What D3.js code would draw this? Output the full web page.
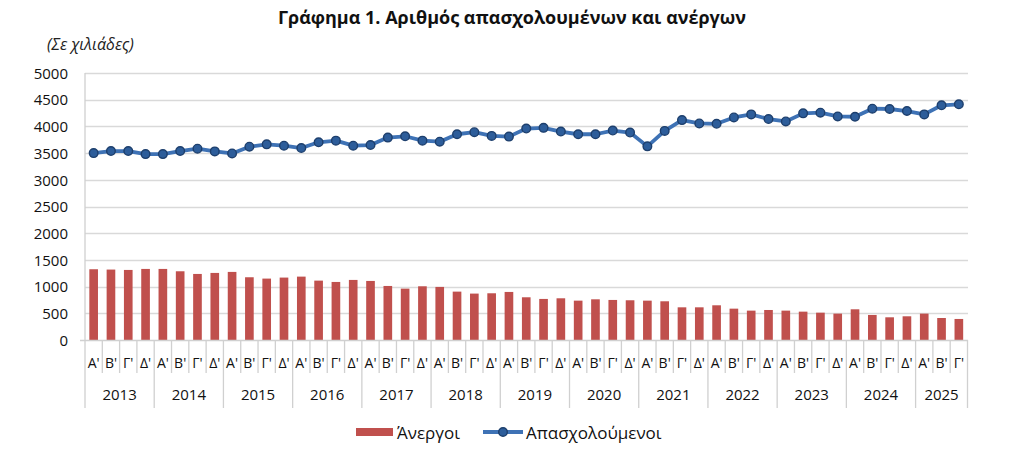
<!DOCTYPE html>
<html>
<head>
<meta charset="utf-8">
<script src="https://cdn.jsdelivr.net/npm/d3@7"></script>
<style>
  html, body { margin: 0; padding: 0; background: #fff; }
  svg { display: block; font-family: "Open Sans", "Noto Sans", sans-serif; }
</style>
</head>
<body>
<svg id="chart" width="1024" height="465"></svg>
<script>
const years = ["2013","2014","2015","2016","2017","2018","2019","2020","2021","2022","2023","2024","2025"];
const quarterNames = ["Α'","Β'","Γ'","Δ'"];
const yTicks = [0,500,1000,1500,2000,2500,3000,3500,4000,4500,5000];

const unemployed = [1325,1319,1312,1331,1331,1287,1237,1256,1275,1175,
                    1150,1169,1187,1112,1087,1125,1106,1012,962,1006,
                    994,906,869,875,900,800,769,781,737,762,
                    750,744,737,725,612,612,650,587,550,562,
                    550,531,512,494,575,469,425,444,494,412,394];
const employed = [3500,3538,3538,3481,3481,3538,3582,3532,3494,3620,
                  3664,3639,3595,3702,3733,3639,3651,3790,3815,3733,
                  3714,3853,3891,3822,3809,3960,3973,3903,3853,3853,
                  3922,3885,3626,3916,4118,4055,4049,4168,4225,4137,
                  4093,4244,4257,4187,4181,4332,4326,4288,4225,4395,4414];

(function () {
const data = unemployed.map((u, i) => ({
  i, year: years[Math.floor(i / 4)], q: quarterNames[i % 4], u, e: employed[i]
}));

const svg = d3.select("#chart");
const pLeft = 85, pRight = 967.5, pTop = 73, pBase = 340;

const x = d3.scaleBand().domain(data.map(d => d.i)).range([pLeft, pRight]).paddingInner(0).paddingOuter(0);
const y = d3.scaleLinear().domain([0, 5000]).range([pBase, pTop]);

// title
svg.append("text").attr("x", 512).attr("y", 24).attr("text-anchor", "middle")
  .attr("font-weight", "bold").attr("font-size", 18).attr("fill", "#111")
  .text("Γράφημα 1. Αριθμός απασχολουμένων και ανέργων");
svg.append("text").attr("x", 47).attr("y", 50)
  .attr("font-style", "italic").attr("font-size", 16).attr("fill", "#222")
  .text("(Σε χιλιάδες)");

// grid
svg.append("g").selectAll("line").data(yTicks.filter(t => t > 0)).join("line")
  .attr("x1", pLeft).attr("x2", pRight + 0.5)
  .attr("y1", d => Math.round(y(d)) + 0.5).attr("y2", d => Math.round(y(d)) + 0.5)
  .attr("stroke", "#d9d9d9").attr("stroke-width", 1.3);

// y labels
const yAxis = d3.axisLeft(y).tickValues(yTicks).tickFormat(d3.format("d")).tickSize(0).tickPadding(0);
const gy = svg.append("g").attr("transform", `translate(${pLeft - 17},0)`).call(yAxis);
gy.select(".domain").remove();
gy.selectAll("text").attr("font-size", 15).attr("fill", "#111")
  .attr("font-family", "'Open Sans', 'Noto Sans', sans-serif").attr("dy", "0.35em");

// bars
const bw = x.bandwidth() * 0.5;
svg.append("g").selectAll("rect").data(data).join("rect")
  .attr("x", d => x(d.i) + (x.bandwidth() - bw) / 2)
  .attr("width", bw)
  .attr("y", d => y(d.u))
  .attr("height", d => pBase - y(d.u))
  .attr("fill", "#c0504d");

// baseline + category axis
const axisColor = "#d0d0d0";
svg.append("line").attr("x1", pLeft - 5).attr("x2", pRight + 0.5).attr("y1", pBase + 0.5).attr("y2", pBase + 0.5)
  .attr("stroke", axisColor).attr("stroke-width", 1.3);
svg.append("line").attr("x1", pLeft).attr("x2", pLeft).attr("y1", pTop).attr("y2", pBase)
  .attr("stroke", axisColor).attr("stroke-width", 1.3);

// quarter separators
const bounds = d3.range(data.length + 1);
svg.append("g").selectAll("line").data(bounds).join("line")
  .attr("x1", d => d < data.length ? x(d) : pRight)
  .attr("x2", d => d < data.length ? x(d) : pRight)
  .attr("y1", pBase)
  .attr("y2", d => (d % 4 === 0 || d === data.length) ? 408 : 373)
  .attr("stroke", axisColor).attr("stroke-width", 1.3);

// quarter labels
svg.append("g").selectAll("text").data(data).join("text")
  .attr("x", d => x(d.i) + x.bandwidth() / 2)
  .attr("y", 363).attr("dy", "0.35em").attr("text-anchor", "middle")
  .attr("font-size", 14).attr("fill", "#111")
  .text(d => d.q);

// year labels
const yearGroups = d3.groups(data, d => d.year);
svg.append("g").selectAll("text").data(yearGroups).join("text")
  .attr("x", g => {
    const first = g[1][0].i, last = g[1][g[1].length - 1].i;
    return (x(first) + x(last) + x.bandwidth()) / 2;
  })
  .attr("y", 395).attr("dy", "0.35em").attr("text-anchor", "middle")
  .attr("font-size", 15).attr("fill", "#111")
  .text(g => g[0]);

// line
const line = d3.line().x(d => x(d.i) + x.bandwidth() / 2).y(d => y(d.e));
svg.append("path").datum(data).attr("d", line)
  .attr("fill", "none").attr("stroke", "#3e72b5").attr("stroke-width", 3.8)
  .attr("stroke-linejoin", "round");
svg.append("g").selectAll("circle").data(data).join("circle")
  .attr("cx", d => x(d.i) + x.bandwidth() / 2).attr("cy", d => y(d.e))
  .attr("r", 4.3).attr("fill", "#2d5d9a").attr("stroke", "#1d3f6d").attr("stroke-width", 1.4);

// legend
const lg = svg.append("g");
lg.append("rect").attr("x", 356).attr("y", 428).attr("width", 37).attr("height", 8).attr("fill", "#c0504d");
lg.append("text").attr("x", 397).attr("y", 433).attr("dy", "0.35em").attr("font-size", 17).attr("fill", "#111").text("Άνεργοι");
lg.append("line").attr("x1", 483).attr("x2", 523).attr("y1", 432).attr("y2", 432)
  .attr("stroke", "#3e72b5").attr("stroke-width", 3.8);
lg.append("circle").attr("cx", 503).attr("cy", 432).attr("r", 4.3)
  .attr("fill", "#2d5d9a").attr("stroke", "#1d3f6d").attr("stroke-width", 1.4);
lg.append("text").attr("x", 526).attr("y", 433).attr("dy", "0.35em").attr("font-size", 17).attr("fill", "#111").text("Απασχολούμενοι");
})();
</script>
</body>
</html>
